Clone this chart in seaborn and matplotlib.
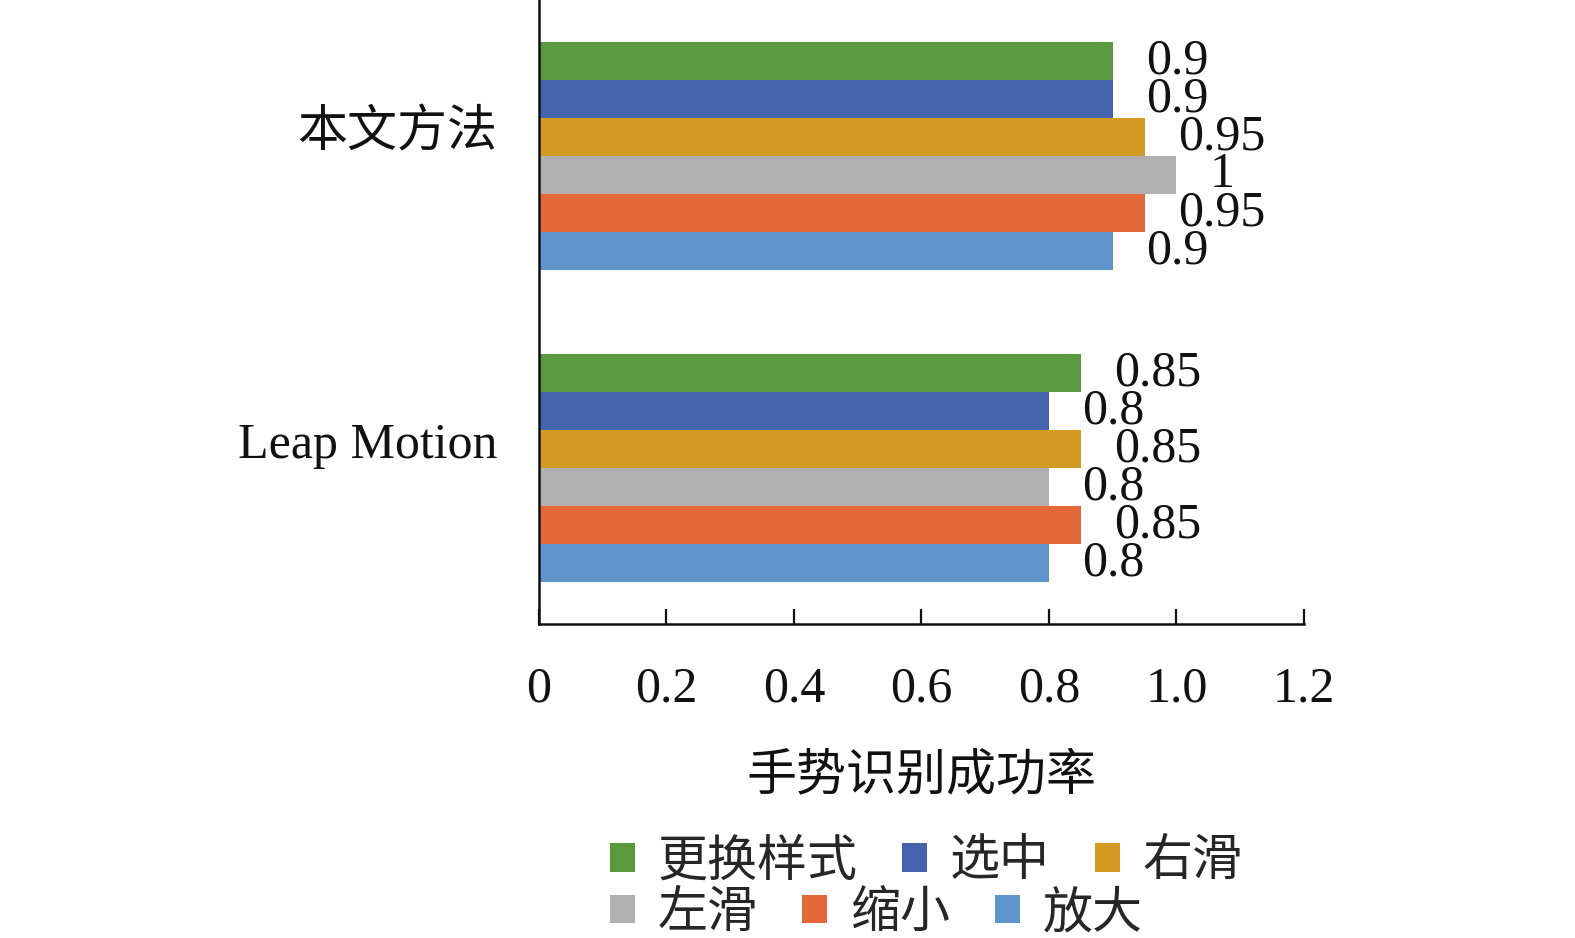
import pandas as pd
import matplotlib
matplotlib.use('Agg')
import matplotlib.pyplot as plt
import matplotlib.transforms as mtransforms
import seaborn as sns

# 数据
methods = ['本文方法', 'Leap Motion']
gestures = ['更换样式', '选中', '右滑', '左滑', '缩小', '放大']
ours = [0.9, 0.9, 0.95, 1, 0.95, 0.9]
leap = [0.85, 0.8, 0.85, 0.8, 0.85, 0.8]
colors = ['#5A9A3E', '#4563AD', '#D49A24', '#B0B0B0', '#E3693A', '#5F94CC']
xticks = [0, 0.2, 0.4, 0.6, 0.8, 1.0, 1.2]
xtick_labels = ['0', '0.2', '0.4', '0.6', '0.8', '1.0', '1.2']

rows = []
for g, a, b in zip(gestures, ours, leap):
    rows.append({'方法': methods[0], '手势': g, '成功率': a})
    rows.append({'方法': methods[1], '手势': g, '成功率': b})
df = pd.DataFrame(rows)

sns.set_theme(style='white')
plt.rcParams['font.family'] = ['Liberation Serif', 'Noto Sans CJK SC']

fig = plt.figure(figsize=(15.75, 9.38), dpi=100)
ax = fig.add_axes([0.3422, 0.3348, 0.4857, 0.6652])

sns.barplot(data=df, x='成功率', y='方法', hue='手势', order=methods,
            hue_order=gestures, palette=colors, orient='h', width=0.73,
            linewidth=0, saturation=1, ax=ax)

for cont in ax.containers:
    ax.bar_label(cont, fmt='{:g}', padding=24, fontsize=36, color='#111111')

handles, labels = ax.get_legend_handles_labels()
ax.get_legend().remove()

ax.set_xlim(0, 1.2)
ax.set_xticks(xticks)
ax.set_xticklabels(xtick_labels)
ax.set_ylim(1.5, -0.5)
ax.set_ylabel('')
ax.set_xlabel('手势识别成功率', fontsize=36, labelpad=30, color='#111111')

ax.tick_params(axis='x', direction='in', length=11, width=1.6, pad=30,
               labelsize=36, colors='#111111', bottom=True)
ax.tick_params(axis='y', length=0, pad=30, labelsize=36, colors='#111111')

# 类别标签略高于组中心
shift = mtransforms.ScaledTranslation(0, 0.28, fig.dpi_scale_trans)
for lab in ax.get_yticklabels():
    lab.set_transform(lab.get_transform() + shift)

sns.despine(ax=ax, top=True, right=True)
for side in ['left', 'bottom']:
    ax.spines[side].set_linewidth(1.8)
    ax.spines[side].set_color('#111111')

leg_kw = dict(frameon=False, fontsize=36, handlelength=0.5, handleheight=0.5,
              handletextpad=0.45, columnspacing=0.9, borderpad=0,
              borderaxespad=0, loc='center left')
leg1 = fig.legend(handles[:3], labels[:3], ncol=3,
                  bbox_to_anchor=(0.3873, 0.080), **leg_kw)
leg2 = fig.legend(handles[3:], labels[3:], ncol=3,
                  bbox_to_anchor=(0.3873, 0.025), **leg_kw)

fig.savefig('out.png', dpi=100)
